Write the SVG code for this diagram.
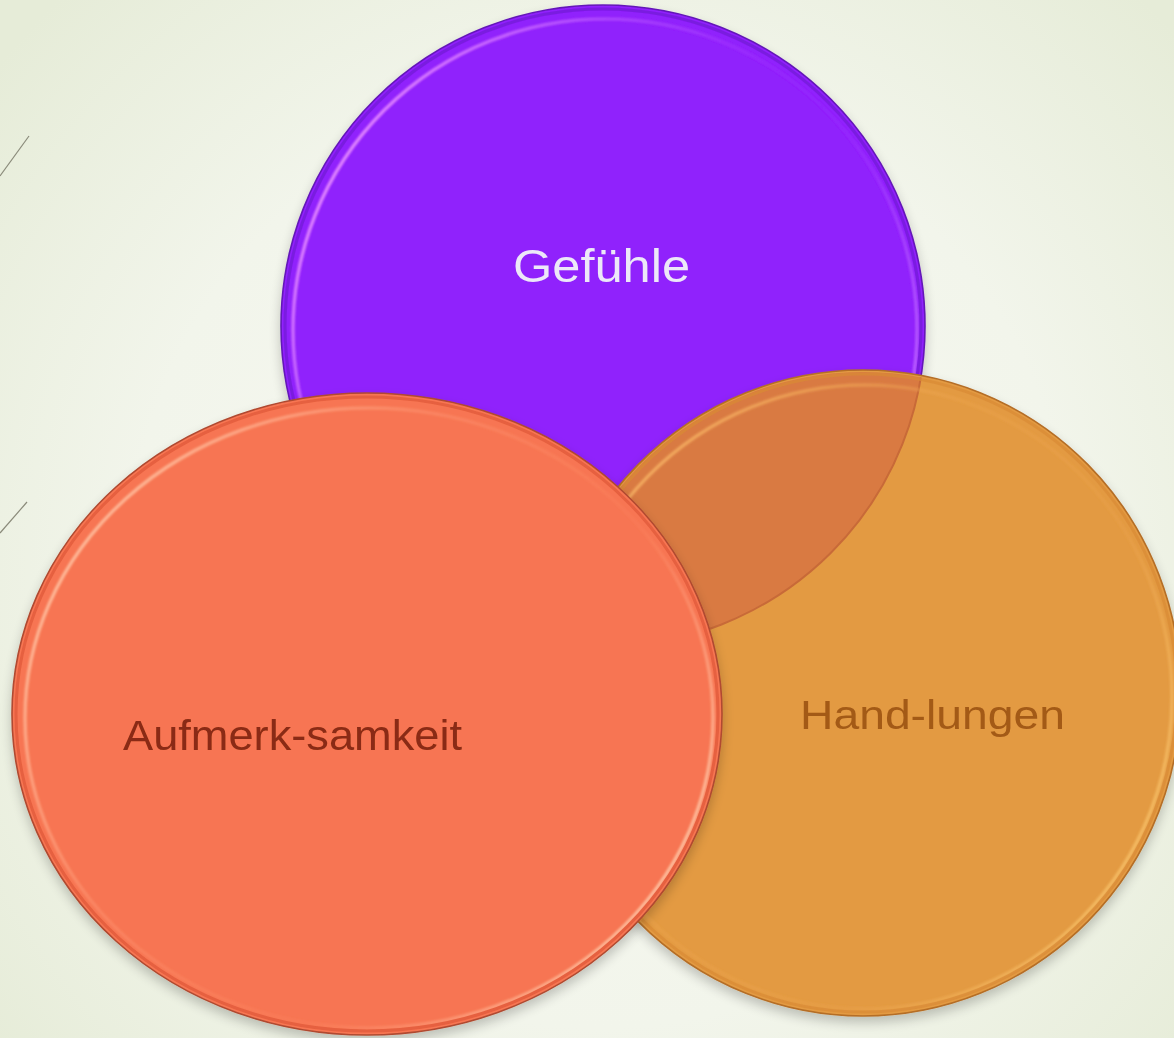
<svg xmlns="http://www.w3.org/2000/svg" width="1174" height="1038" viewBox="0 0 1174 1038">
  <defs>
    <radialGradient id="bg" cx="600" cy="560" r="780" gradientUnits="userSpaceOnUse">
      <stop offset="0" stop-color="#f7f8f2"/>
      <stop offset="0.6" stop-color="#f2f5eb"/>
      <stop offset="1" stop-color="#e6ecd8"/>
    </radialGradient>
    <linearGradient id="rimPurple" x1="0" y1="0.2" x2="1" y2="0.8">
      <stop offset="0" stop-color="#f59cff"/>
      <stop offset="0.3" stop-color="#c060ff" stop-opacity="0.5"/>
      <stop offset="0.6" stop-color="#9a30ff" stop-opacity="0.2"/>
      <stop offset="1" stop-color="#d080ff"/>
    </linearGradient>
    <linearGradient id="rimRed" x1="0" y1="0.2" x2="1" y2="0.8">
      <stop offset="0" stop-color="#ffc8a8"/>
      <stop offset="0.35" stop-color="#ff9a78" stop-opacity="0.4"/>
      <stop offset="0.65" stop-color="#ff8a68" stop-opacity="0.2"/>
      <stop offset="1" stop-color="#ffd8b8"/>
    </linearGradient>
    <linearGradient id="rimOrange" x1="0" y1="0.2" x2="1" y2="0.8">
      <stop offset="0" stop-color="#ffc070"/>
      <stop offset="0.4" stop-color="#f0a850" stop-opacity="0.4"/>
      <stop offset="0.7" stop-color="#f0a850" stop-opacity="0.3"/>
      <stop offset="1" stop-color="#ffd27a"/>
    </linearGradient>
    <filter id="shadow" x="-10%" y="-10%" width="120%" height="125%">
      <feGaussianBlur in="SourceAlpha" stdDeviation="6"/>
      <feOffset dx="0" dy="6" result="b"/>
      <feComponentTransfer><feFuncA type="linear" slope="0.22"/></feComponentTransfer>
      <feMerge><feMergeNode/><feMergeNode in="SourceGraphic"/></feMerge>
    </filter>
    <filter id="soft" x="-5%" y="-5%" width="110%" height="110%">
      <feGaussianBlur stdDeviation="1.2"/>
    </filter>
    <clipPath id="orangeClip">
      <ellipse cx="863" cy="693" rx="316" ry="321"/>
    </clipPath>
  </defs>
  <style>
    .lbl { font-family: "Century Gothic", "Liberation Sans", "DejaVu Sans", sans-serif; text-anchor: start; }
    .edge { stroke-width: 1.6; }
    .rim { fill: none; stroke-width: 3.5; }
    .deco { stroke: #8a8a7a; stroke-width: 1.2; fill: none; }
  </style>

  <rect x="0" y="0" width="1174" height="1038" fill="url(#bg)"/>

  <line class="deco" x1="0" y1="176" x2="29" y2="136"/>
  <line class="deco" x1="0" y1="533" x2="27" y2="502"/>

  <g id="connectors"/>

  <g id="node-gefuehle" filter="url(#shadow)">
    <ellipse cx="603" cy="326" rx="322" ry="321" fill="#9020fc" stroke="#6418b8" class="edge"/>
    <ellipse cx="605" cy="330" rx="312" ry="311" class="rim" stroke="url(#rimPurple)" filter="url(#soft)"/>
    <ellipse cx="603" cy="326" rx="318" ry="317" fill="none" stroke="#7a1ee0" stroke-width="3"/>
    <text class="lbl" x="513" y="282" font-size="47" fill="#ece8f8" textLength="177" lengthAdjust="spacingAndGlyphs">Gefühle</text>
  </g>

  <g id="node-handlungen" filter="url(#shadow)">
    <ellipse cx="863" cy="693" rx="318" ry="323" fill="#e39a42" stroke="#b56e26" class="edge"/>
    <g clip-path="url(#orangeClip)">
      <ellipse cx="603" cy="326" rx="322" ry="321" fill="#d97a42" stroke="#c86a38" stroke-width="2"/>
    </g>
    <ellipse cx="865" cy="697" rx="307" ry="312" class="rim" stroke="url(#rimOrange)" stroke-opacity="0.8" filter="url(#soft)"/>
    <ellipse cx="863" cy="693" rx="314" ry="319" fill="none" stroke="#d88a36" stroke-opacity="0.7" stroke-width="3"/>
    <text class="lbl" x="800" y="729" font-size="41" fill="#a35a18" textLength="265" lengthAdjust="spacingAndGlyphs">Hand-lungen</text>
  </g>

  <g id="node-aufmerksamkeit" filter="url(#shadow)">
    <ellipse cx="367" cy="714" rx="355" ry="321" fill="#f77552" stroke="#b04a30" class="edge"/>
    <ellipse cx="369" cy="718" rx="344" ry="310" class="rim" stroke="url(#rimRed)" filter="url(#soft)"/>
    <ellipse cx="367" cy="714" rx="351" ry="317" fill="none" stroke="#e6603f" stroke-width="3"/>
    <text class="lbl" x="123" y="750" font-size="42" fill="#8a2c12" textLength="339" lengthAdjust="spacingAndGlyphs">Aufmerk-samkeit</text>
  </g>
</svg>
